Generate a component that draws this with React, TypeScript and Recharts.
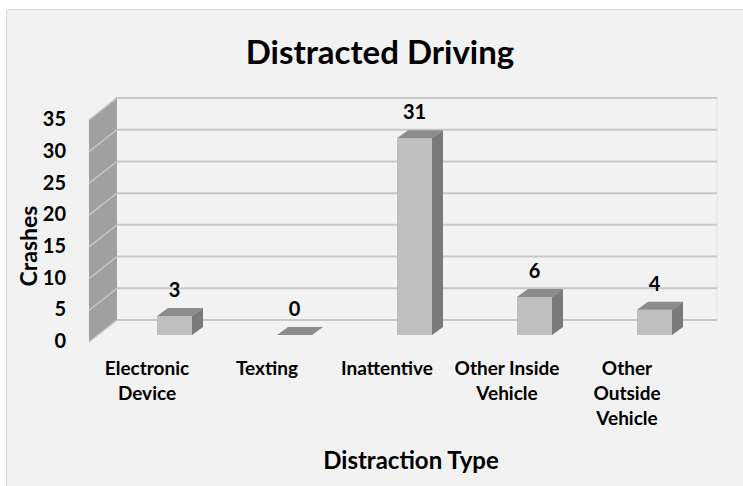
import { BarChart, Bar, XAxis, YAxis, CartesianGrid, LabelList } from 'recharts'

const categories = ['Electronic Device', 'Texting', 'Inattentive', 'Other Inside Vehicle', 'Other Outside Vehicle']
const crashes = [3, 0, 31, 6, 4]
const tickLines = [['Electronic', 'Device'], ['Texting'], ['Inattentive'], ['Other Inside', 'Vehicle'], ['Other', 'Outside', 'Vehicle']]
const yTicks = [0, 5, 10, 15, 20, 25, 30, 35]

const data = categories.map((name, i) => ({ name, crashes: crashes[i] }))

const FONT = 'Lato, "Open Sans", sans-serif'
// depth of the fake 3d bars
const DX = 11
const DY = 8

// back wall + left wall drawn from the grid lines
function GridLine(props: any) {
    const { x1, x2, y1, index, x, y, height } = props
    return (
        <g>
            {index === 0 && (
                <g>
                    <polygon
                        points={`${x - 25},${y + height + 7} ${x + 3},${y + height - 15} ${x + 3},${y - 16} ${x - 25},${y + 7}`}
                        fill="#a0a0a0"
                    />
                    <line x1={x2 + 3} y1={y - 16} x2={x2 + 3} y2={y + height - 15} stroke="#e4e4e4" />
                </g>
            )}
            <line x1={x1 + 3} y1={y1 - 15} x2={x2 + 3} y2={y1 - 15} stroke="#c8c8c8" strokeWidth={2} />
            <line x1={x1 - 25} y1={y1 + 7} x2={x1 + 3} y2={y1 - 15} stroke="#c4c4c4" strokeWidth={1.5} />
        </g>
    )
}

function Box(props: any) {
    const { x, y, width: w, height: h } = props
    return (
        <g>
            <rect x={x} y={y} width={w} height={h} fill="#bfbfbf" />
            <polygon points={`${x},${y} ${x + DX},${y - DY} ${x + w + DX},${y - DY} ${x + w},${y}`} fill="#8c8c8c" />
            <polygon points={`${x + w},${y} ${x + w + DX},${y - DY} ${x + w + DX},${y + h - DY} ${x + w},${y + h}`} fill="#7a7a7a" />
        </g>
    )
}

function YTick(props: any) {
    const { y, payload } = props
    return (
        <text x={66} y={y + 8} textAnchor="end" dominantBaseline="middle" fontFamily={FONT} fontWeight="bold" fontSize={20} fill="#000">
            {payload.value}
        </text>
    )
}

function XTick(props: any) {
    const { x, y, index } = props
    const lines = tickLines[index] || []
    return (
        <text x={x - 27} y={y + 27} textAnchor="middle" dominantBaseline="middle" fontFamily={FONT} fontWeight="bold" fontSize={19} fill="#000">
            {lines.map((l, i) => (
                <tspan key={i} x={x - 27} dy={i === 0 ? 0 : 25}>{l}</tspan>
            ))}
        </text>
    )
}

function ValueLabel(props: any) {
    const { x, y, width, value } = props
    return (
        <text x={x + width / 2} y={y - 24} textAnchor="middle" dominantBaseline="middle" fontFamily={FONT} fontWeight="bold" fontSize={20} fill="#000">
            {value}
        </text>
    )
}

export default function App() {
    return (
        <div style={{ position: 'absolute', left: 0, top: 0, width: 743, height: 486, background: '#fff', overflow: 'hidden' }}>
            <div style={{ position: 'absolute', left: 6, top: 9, width: 745, height: 485, background: '#f2f2f2', border: '1px solid #d9d9d9' }} />
            <div style={{ position: 'absolute', left: 0, top: 0 }}>
                <BarChart width={743} height={486} data={data} margin={{ top: 113, right: 29, bottom: 0, left: 0 }}>
                    <CartesianGrid vertical={false} horizontal={GridLine} />
                    <XAxis dataKey="name" axisLine={false} tickLine={false} height={151} interval={0} tick={XTick} />
                    <YAxis domain={[0, 35]} ticks={yTicks} axisLine={false} tickLine={false} width={114} tick={YTick} />
                    <Bar dataKey="crashes" barSize={35} shape={Box} isAnimationActive={false}>
                        <LabelList dataKey="crashes" content={ValueLabel} />
                    </Bar>
                    <text x={380} y={56} textAnchor="middle" dominantBaseline="middle" fontFamily={FONT} fontWeight="bold" fontSize={33} fill="#000">
                        Distracted Driving
                    </text>
                    <text x={411} y={463} textAnchor="middle" dominantBaseline="middle" fontFamily={FONT} fontWeight="bold" fontSize={24} fill="#000">
                        Distraction Type
                    </text>
                    <text x={31} y={246} transform="rotate(-90 31 246)" textAnchor="middle" dominantBaseline="middle" fontFamily={FONT} fontWeight="bold" fontSize={23} fill="#000">
                        Crashes
                    </text>
                </BarChart>
            </div>
        </div>
    )
}
